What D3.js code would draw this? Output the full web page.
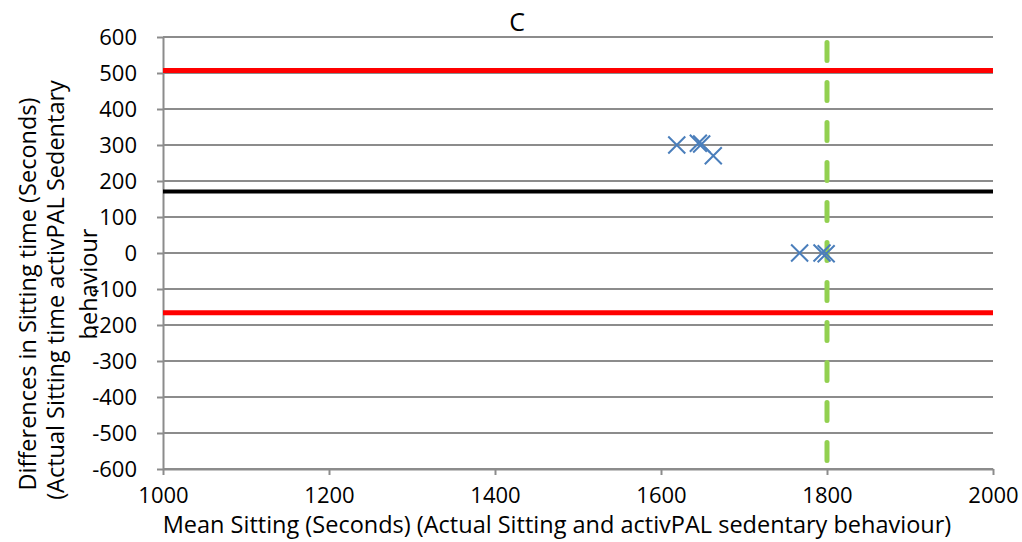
<!DOCTYPE html>
<html><head><meta charset="utf-8">
<script src="https://cdn.jsdelivr.net/npm/d3@7"></script>
<style>body{margin:0;background:#fff}svg{display:block}text{font-family:"Open Sans","Noto Sans",sans-serif;fill:#000}</style>
</head><body><svg id="c" width="1022" height="542"></svg>
<script>
const xTicks=[1000,1200,1400,1600,1800,2000];
const yTicks=[600,500,400,300,200,100,0,-100,-200,-300,-400,-500,-600];
const pointsX=[1619,1645,1649,1663,1767,1794,1799];
const pointsY=[300,305,303,270,0,0,-2];
const meanDiff=[171];
const limits=[507,-166];
const refX=[1800];
const title="C";

const svg=d3.select("#c");
const L=163,R=993,T=37,B=469;
const FS="22px", LFS="23.5px";
const x=d3.scaleLinear().domain([1000,2000]).range([L,R]);
const y=d3.scaleLinear().domain([-600,600]).range([B,T]);

// gridlines
svg.append("g").selectAll("line").data(yTicks).join("line")
 .attr("x1",L).attr("x2",R).attr("y1",d=>y(d)).attr("y2",d=>y(d))
 .attr("stroke","#8c8c8c").attr("stroke-width",2);

const ax=svg.append("g").attr("transform",`translate(0,${B})`)
 .call(d3.axisBottom(x).tickValues(xTicks).tickFormat(d=>String(d)).tickSize(6).tickSizeOuter(0).tickPadding(12));
ax.select(".domain").attr("stroke","#8c8c8c").attr("stroke-width",2);
ax.selectAll(".tick line").attr("stroke","#8c8c8c").attr("stroke-width",2);
ax.selectAll("text").style("font-size",FS);

const ay=svg.append("g").attr("transform",`translate(${L},0)`)
 .call(d3.axisLeft(y).tickValues(yTicks).tickFormat(d=>String(d)).tickSize(6).tickSizeOuter(0).tickPadding(20));
ay.select(".domain").attr("stroke","#8c8c8c").attr("stroke-width",2);
ay.selectAll(".tick line").attr("stroke","#8c8c8c").attr("stroke-width",2);
ay.selectAll("text").style("font-size",FS);

// limit lines
svg.append("g").selectAll("line").data(limits).join("line")
 .attr("x1",L).attr("x2",R).attr("y1",d=>y(d)).attr("y2",d=>y(d))
 .attr("stroke","#ff0000").attr("stroke-width",5);
svg.append("g").selectAll("line").data(meanDiff).join("line")
 .attr("x1",L).attr("x2",R).attr("y1",d=>y(d)).attr("y2",d=>y(d))
 .attr("stroke","#000").attr("stroke-width",4);

// green dashed vertical
svg.append("g").selectAll("line").data(refX).join("line")
 .attr("x1",d=>x(d)).attr("x2",d=>x(d)).attr("y1",y(585)).attr("y2",y(-600))
 .attr("stroke","#92d050").attr("stroke-width",5).attr("stroke-linecap","round")
 .attr("stroke-dasharray","18,22");

// markers
const s=8.5;
const pts=pointsX.map((v,i)=>[v,pointsY[i]]);
svg.append("g").selectAll("path").data(pts).join("path")
 .attr("d",d=>{const cx=x(d[0]),cy=y(d[1]);return `M${cx-s},${cy-s}L${cx+s},${cy+s}M${cx-s},${cy+s}L${cx+s},${cy-s}`;})
 .attr("stroke","#4a7ebb").attr("stroke-width",2).attr("fill","none");

svg.append("text").attr("x",517).attr("y",31).attr("text-anchor","middle").style("font-size","25px").text(title);
svg.append("text").attr("x",557).attr("y",533).attr("text-anchor","middle").style("font-size",LFS)
 .text("Mean Sitting (Seconds) (Actual Sitting and activPAL sedentary behaviour)");
const yl=[["Differences in Sitting time (Seconds)",36,294],["(Actual Sitting time activPAL Sedentary",64,290],["behaviour",97,284]];
svg.append("g").selectAll("text").data(yl).join("text")
 .attr("transform",d=>`translate(${d[1]},${d[2]}) rotate(-90)`).attr("text-anchor","middle")
 .style("font-size",LFS).text(d=>d[0]);
</script></body></html>
